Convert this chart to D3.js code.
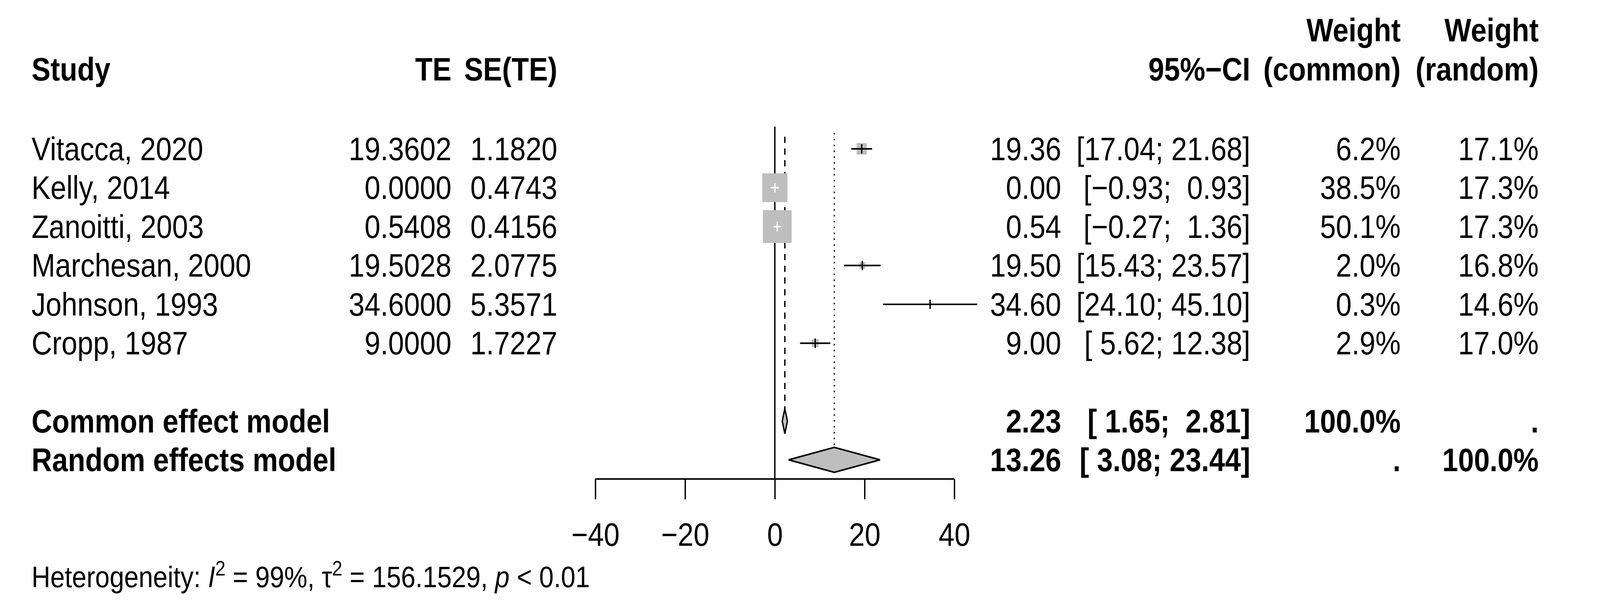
<!DOCTYPE html><html><head><meta charset="utf-8"><script src="https://cdn.jsdelivr.net/npm/d3@7"></script>
<style>html,body{margin:0;background:#fff;overflow:hidden}svg{display:block;width:100vw;height:100vh}text{font-family:"Liberation Sans",Arial,sans-serif;white-space:pre}</style></head><body>
<script>
const studies=["Vitacca, 2020","Kelly, 2014","Zanoitti, 2003","Marchesan, 2000","Johnson, 1993","Cropp, 1987"];
const te=[19.3602,0,0.5408,19.5028,34.6,9.0];
const se=[1.1820,0.4743,0.4156,2.0775,5.3571,1.7227];
const lower=[17.04,-0.93,-0.27,15.43,24.10,5.62];
const upper=[21.68,0.93,1.36,23.57,45.10,12.38];
const wCommon=[6.2,38.5,50.1,2.0,0.3,2.9];
const wRandom=[17.1,17.3,17.3,16.8,14.6,17.0];
const models=[{name:"Common effect model",est:2.23,lo:1.65,hi:2.81,wc:"100.0%",wr:"."},
 {name:"Random effects model",est:13.26,lo:3.08,hi:23.44,wc:".",wr:"100.0%"}];
const ticks=[-40,-20,0,20,40];
const W=4671,H=1546,fs=83;
const svg=d3.select("body").append("svg").attr("viewBox",`0 0 ${W} ${H}`).attr("preserveAspectRatio","none");
const x=d3.scaleLinear().domain([-40,40]).range([1738,2786]);
const rowY=d3.scaleLinear().domain([0,1]).range([381,480.5]);
const f2=v=>v.toFixed(2), pad=(s,n)=>s.padStart(n," ");
const C={study:92,te:1318,se:1627,est:3098,ci:3650,wc:4089,wr:4492};
const T=(t,xx,yy,anchor,bold,size)=>svg.append("text").attr("x",xx).attr("y",yy).attr("text-anchor",anchor||"start")
 .attr("font-weight",bold?"bold":"normal").attr("font-size",size||fs).attr("dominant-baseline","central").text(t.replace(/-/g,"\u2212"));
// headers
T("Study",C.study,177,"start",true);T("TE",C.te,177,"end",true);T("SE(TE)",C.se,177,"end",true);
T("95%-CI",C.ci,177,"end",true);T("Weight",C.wc,77,"end",true);T("(common)",C.wc,177,"end",true);
T("Weight",C.wr,77,"end",true);T("(random)",C.wr,177,"end",true);
// ref lines
const axisY=1226;
svg.append("line").attr("x1",x(0)).attr("x2",x(0)).attr("y1",324).attr("y2",axisY).attr("stroke","#000").attr("stroke-width",4);
svg.append("line").attr("x1",x(models[0].est)).attr("x2",x(models[0].est)).attr("y1",350).attr("y2",1110).attr("stroke","#000").attr("stroke-width",4).attr("stroke-dasharray","16,14");
svg.append("line").attr("x1",x(models[1].est)).attr("x2",x(models[1].est)).attr("y1",342).attr("y2",1140).attr("stroke","#000").attr("stroke-width",4).attr("stroke-dasharray","0.5,14.5").attr("stroke-linecap","round");
// studies
studies.forEach((s,i)=>{
 const y=rowY(i);
 T(s,C.study,y);T(te[i].toFixed(4),C.te,y,"end");T(se[i].toFixed(4),C.se,y,"end");
 T(f2(te[i]),C.est,y,"end");
 T("["+pad(f2(lower[i]),5)+"; "+pad(f2(upper[i]),5)+"]",C.ci,y,"end");
 T(wCommon[i].toFixed(1)+"%",C.wc,y,"end");T(wRandom[i].toFixed(1)+"%",C.wr,y,"end");
 const side=84*Math.sqrt(wCommon[i]/50.1);
 svg.append("rect").attr("x",x(te[i])-side/2).attr("y",y-side/2).attr("width",side).attr("height",side).attr("fill","#bebebe");
 const inside=(x(upper[i])-x(lower[i]))<side;
 const col=inside?"#fff":"#000";
 svg.append("line").attr("x1",x(lower[i])).attr("x2",x(upper[i])).attr("y1",y).attr("y2",y).attr("stroke",col).attr("stroke-width",4);
 svg.append("line").attr("x1",x(te[i])).attr("x2",x(te[i])).attr("y1",y-12).attr("y2",y+12).attr("stroke",col).attr("stroke-width",4);
});
// models
models.forEach((m,j)=>{
 const y=[1078,1177][j];
 T(m.name,C.study,y,"start",true);T(f2(m.est),C.est,y,"end",true);
 T("["+pad(f2(m.lo),5)+"; "+pad(f2(m.hi),5)+"]",C.ci,y,"end",true);
 T(m.wc,C.wc,y,"end",true);T(m.wr,C.wr,y,"end",true);
 const h=32;
 svg.append("path").attr("d",`M${x(m.lo)},${y}L${x(m.est)},${y-h}L${x(m.hi)},${y}L${x(m.est)},${y+h}Z`)
  .attr("fill","#bebebe").attr("stroke","#000").attr("stroke-width",4);
});
// axis
const ax=svg.append("g").attr("transform",`translate(0,${axisY})`).call(d3.axisBottom(x).tickValues(ticks).tickSize(52).tickPadding(60).tickFormat(d=>d<0?"\u2212"+(-d):d));
ax.select(".domain").attr("stroke-width",4).attr("d",`M${x(-40)},0H${x(40)}`);
ax.selectAll(".tick line").attr("stroke-width",4);
ax.selectAll("text").attr("font-size",fs).attr("font-family","Liberation Sans, Arial, sans-serif").attr("fill","#000");
// heterogeneity
const ht=svg.append("text").attr("x",92).attr("y",1503).attr("font-size",76);
ht.append("tspan").text("Heterogeneity: ");ht.append("tspan").attr("font-style","italic").text("I");
ht.append("tspan").attr("dy",-30).attr("font-size",54).text("2");
ht.append("tspan").attr("dy",30).text(" = 99%, \u03C4");
ht.append("tspan").attr("dy",-30).attr("font-size",54).text("2");
ht.append("tspan").attr("dy",30).text(" = 156.1529, ");
ht.append("tspan").attr("font-style","italic").text("p");ht.append("tspan").text(" < 0.01");
</script></body></html>
